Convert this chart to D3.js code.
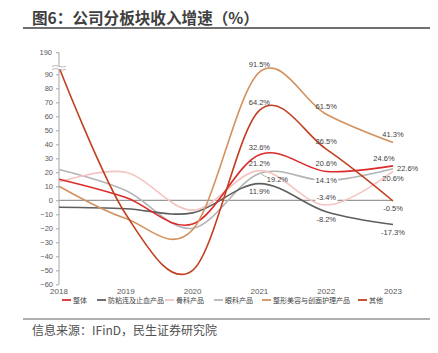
<!DOCTYPE html>
<html><head><meta charset="utf-8">
<script src="https://cdn.jsdelivr.net/npm/d3@7"></script>
<style>body{margin:0;background:#fff}svg{display:block}</style>
</head><body>
<script>
const years = [2018, 2019, 2020, 2021, 2022, 2023];
const seriesNames = ["整体", "防粘连及止血产品", "骨科产品", "眼科产品", "整形美容与创面护理产品", "其他"];
const zhengti   = [15, 2, -17, 32.6, 20.6, 24.6];
const fangzhan  = [-5, -6, -9, 11.9, -8.2, -17.3];
const guke      = [13, 20, -7, 21.2, -3.4, 20.6];
const yanke     = [22, 7, -20, 19.2, 14.1, 22.6];
const zhengxing = [10, -13, -21, 91.5, 61.5, 41.3];
const qita      = [95, -10, -50, 64.2, 36.5, -0.5];
const yTicks = [90, 80, 70, 60, 50, 40, 30, 20, 10, 0, -10, -20, -30, -40, -50, -60];
const breakLabel = "190";
const colors = ["#dc2b2b", "#5e5e5e", "#f3c4c2", "#b4b4b4", "#d4925f", "#c2401f"];
const allValues = [zhengti, fangzhan, guke, yanke, zhengxing, qita];
// labelled points: [seriesIndex, yearIndex, dx, dy, anchor, bg]
const labels = [
  [4,3,0,-5,"middle",false],[5,3,0,-5,"middle",false],[0,3,0,-5,"middle",false],
  [2,3,0,-5,"middle",false],[3,3,18,9,"middle",false],[1,3,0,10,"middle",false],
  [4,4,0,-5,"middle",false],[5,4,0,-5,"middle",false],[0,4,0,-5,"middle",false],
  [3,4,0,2.5,"middle",true],[2,4,0,-5,"middle",true],[1,4,0,10,"middle",false],
  [4,5,0,-5,"middle",false],[0,5,-9,-5,"middle",false],[3,5,4,2.5,"start",false],
  [2,5,0,10,"middle",false],[5,5,0,10,"middle",false],[1,5,0,10,"middle",false]
];

const W = 438, H = 353;
const svg = d3.select("body").append("svg").attr("width", W).attr("height", H);
const numFont = "'Liberation Sans', Arial, sans-serif";
const cjkFont = "'Noto Sans CJK SC', 'Microsoft YaHei', sans-serif";

// Title
svg.append("text").attr("x", 32).attr("y", 24).text("图6：公司分板块收入增速（%）")
  .attr("font-family", cjkFont).attr("font-weight", "bold").attr("font-size", 15.6).attr("fill", "#404040");
svg.append("line").attr("x1", 23).attr("x2", 430).attr("y1", 28).attr("y2", 28)
  .attr("stroke", "#404040").attr("stroke-width", 1.5);
// Footer
svg.append("line").attr("x1", 23).attr("x2", 430).attr("y1", 319).attr("y2", 319)
  .attr("stroke", "#606060").attr("stroke-width", 1.2);
svg.append("text").attr("x", 32).attr("y", 334.5).text("信息来源：IFinD，民生证券研究院")
  .attr("font-family", cjkFont).attr("font-size", 12).attr("fill", "#505050");

const x = d3.scalePoint().domain(years).range([59, 393]);
const y = d3.scaleLinear().domain([-60, 95]).range([284.3, 67.3]);
const yTop190 = 52.7;

// clip
svg.append("defs").append("clipPath").attr("id", "plot")
  .append("rect").attr("x", 40).attr("y", y(95)).attr("width", 400).attr("height", 284.3 - y(95) + 5);

// zero line
svg.append("line").attr("x1", x(2018)).attr("x2", x(2023)).attr("y1", y(0)).attr("y2", y(0))
  .attr("stroke", "#7f7f7f").attr("stroke-width", 1);

// y axis
const yAxis = d3.axisLeft(y).tickValues(yTicks).tickSize(3).tickPadding(3);
const ga = svg.append("g").attr("transform", `translate(${x(2018)},0)`).call(yAxis);
ga.select(".domain").remove();
ga.selectAll(".tick line").attr("stroke", "#a6a6a6");
ga.selectAll(".tick text").attr("font-family", numFont).attr("font-size", 7.5).attr("fill", "#595959");
svg.append("line").attr("x1", x(2018)).attr("x2", x(2018)).attr("y1", yTop190).attr("y2", y(-60))
  .attr("stroke", "#a6a6a6").attr("stroke-width", 1);
svg.append("line").attr("x1", x(2018) - 3).attr("x2", x(2018)).attr("y1", yTop190).attr("y2", yTop190)
  .attr("stroke", "#a6a6a6");
svg.append("text").attr("x", 52).attr("y", yTop190 + 2.6).attr("text-anchor", "end").text(breakLabel)
  .attr("font-family", numFont).attr("font-size", 7.5).attr("fill", "#595959");

// x labels
svg.append("g").selectAll("text").data(years).join("text")
  .attr("x", d => x(d)).attr("y", 294).attr("text-anchor", "middle").text(d => d)
  .attr("font-family", numFont).attr("font-size", 8).attr("fill", "#595959");

// lines
const line = d3.line().x((d, i) => x(years[i])).y(d => y(d)).curve(d3.curveCardinal.tension(0));
const gl = svg.append("g").attr("clip-path", "url(#plot)");
const order = [3, 2, 1, 0, 4, 5];
order.forEach(k => {
  gl.append("path").attr("d", line(allValues[k])).attr("fill", "none")
    .attr("stroke", colors[k]).attr("stroke-width", 1.6);
});

// break marker
const bx = x(2018), by = y(95) + 0.5;
svg.append("rect").attr("x", bx - 7).attr("y", by - 1.5).attr("width", 14).attr("height", 3).attr("fill", "#fff");
[by - 1.5, by + 1.5].forEach(yy => {
  svg.append("path").attr("d", `M${bx-7},${yy} q3.5,-1.5 7,0 t7,0`).attr("fill", "none")
    .attr("stroke", "#a6a6a6").attr("stroke-width", 0.8);
});

// data labels
const gLab = svg.append("g");
labels.forEach(([s, i, dx, dy, anchor, bg]) => {
  const v = allValues[s][i];
  const t = gLab.append("text").attr("x", x(years[i]) + dx).attr("y", y(v) + dy)
    .attr("text-anchor", anchor).text(v.toFixed(1) + "%")
    .attr("font-family", numFont).attr("font-size", 7.5).attr("fill", "#404040");
  if (bg) {
    const b = t.node().getBBox();
    gLab.insert("rect", "text").attr("x", b.x - 1).attr("y", b.y).attr("width", b.width + 2).attr("height", b.height).attr("fill", "#fff");
  }
});
// leader for 19.2%
svg.append("line").attr("x1", x(2021) + 2).attr("y1", y(19.2) + 1).attr("x2", x(2021) + 8).attr("y2", y(19.2) + 4)
  .attr("stroke", "#808080").attr("stroke-width", 0.6);

// legend
const legendX = [62, 97, 165, 214, 262, 358];
const lg = svg.append("g");
seriesNames.forEach((n, k) => {
  lg.append("line").attr("x1", legendX[k]).attr("x2", legendX[k] + 9).attr("y1", 300).attr("y2", 300)
    .attr("stroke", colors[k]).attr("stroke-width", 1.8);
  lg.append("text").attr("x", legendX[k] + 11).attr("y", 302.5).text(n)
    .attr("font-family", cjkFont).attr("font-size", 7).attr("fill", "#404040");
});
</script>
</body></html>
